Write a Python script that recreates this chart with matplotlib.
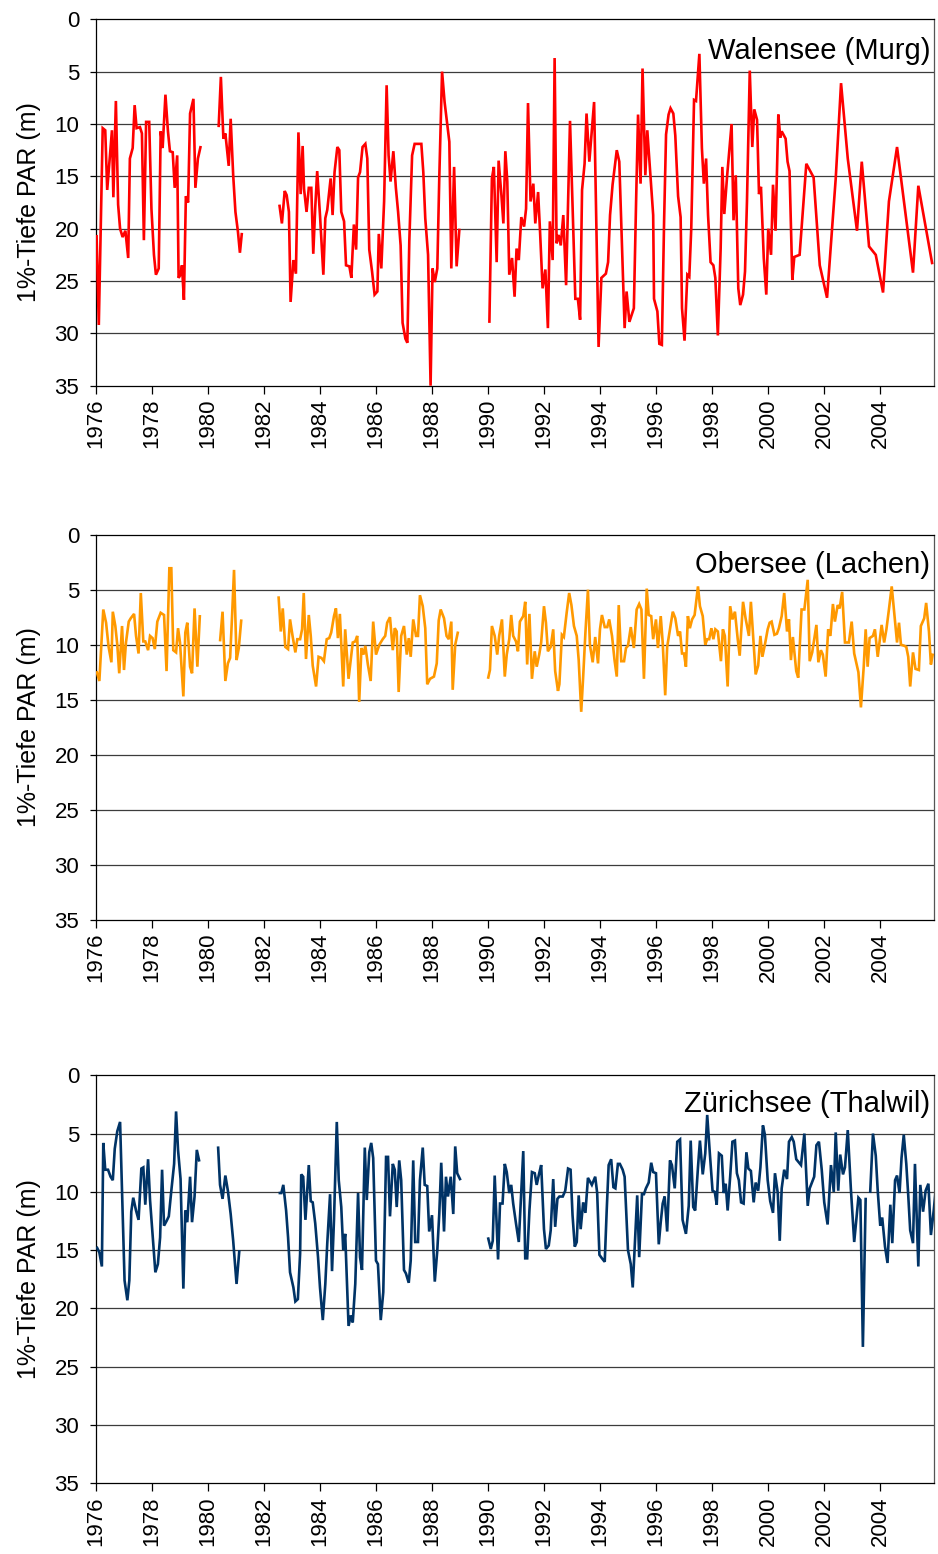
import numpy as np
import matplotlib
matplotlib.use("Agg")
import matplotlib.pyplot as plt

plt.rcParams['font.family'] = ['Liberation Sans', 'DejaVu Sans']

nan = float('nan')

# ---------------- Walensee (Murg) ----------------
walensee_year = [
    1976.02, 1976.10, 1976.24, 1976.33, 1976.40, 1976.57, 1976.62, 1976.71, 1976.79, 1976.86,
    1976.95, 1977.05, 1977.15, 1977.21, 1977.31, 1977.38, 1977.45, 1977.57, 1977.64, 1977.71,
    1977.79, 1977.90, 1977.98, 1978.07, 1978.14, 1978.24, 1978.31, 1978.38, 1978.48, 1978.57,
    1978.64, 1978.74, 1978.81, 1978.90, 1978.95, 1979.02, 1979.07, 1979.14, 1979.21, 1979.29,
    1979.36, 1979.48, 1979.55, 1979.64, 1979.74, 1980.00,
    1980.38, 1980.46, 1980.55, 1980.62, 1980.74, 1980.81, 1980.90, 1980.98, 1981.07, 1981.14,
    1981.21, 1982.00,
    1982.55, 1982.64, 1982.74, 1982.81, 1982.89, 1982.95, 1983.05, 1983.14, 1983.23, 1983.31,
    1983.38, 1983.43, 1983.52, 1983.60, 1983.69, 1983.76, 1983.83, 1983.90, 1984.00, 1984.12,
    1984.19, 1984.26, 1984.38, 1984.45, 1984.52, 1984.62, 1984.69, 1984.76, 1984.86, 1984.93,
    1985.05, 1985.12, 1985.21, 1985.29, 1985.36, 1985.43, 1985.52, 1985.62, 1985.69, 1985.76,
    1985.86, 1985.95, 1986.05, 1986.10, 1986.19, 1986.29, 1986.38, 1986.45, 1986.52, 1986.62,
    1986.71, 1986.79, 1986.88, 1986.95, 1987.05, 1987.12, 1987.19, 1987.29, 1987.38, 1987.62,
    1987.69, 1987.76, 1987.86, 1987.95, 1988.02, 1988.10, 1988.19, 1988.26, 1988.36, 1988.45,
    1988.62, 1988.69, 1988.79, 1988.88, 1988.98, 1989.50,
    1990.05, 1990.14, 1990.21, 1990.31, 1990.38, 1990.48, 1990.55, 1990.62, 1990.69, 1990.76,
    1990.86, 1990.95, 1991.02, 1991.10, 1991.19, 1991.29, 1991.36, 1991.43, 1991.52, 1991.62,
    1991.69, 1991.79, 1991.86, 1991.95, 1992.05, 1992.14, 1992.21, 1992.31, 1992.38, 1992.45,
    1992.52, 1992.60, 1992.69, 1992.79, 1992.93, 1993.12, 1993.21, 1993.29, 1993.36, 1993.45,
    1993.52, 1993.62, 1993.79, 1993.95, 1994.05, 1994.21, 1994.29, 1994.36, 1994.45, 1994.60,
    1994.69, 1994.88, 1994.95, 1995.05, 1995.21, 1995.29, 1995.36, 1995.45, 1995.52, 1995.62,
    1995.69, 1995.81, 1995.90, 1995.93, 1996.05, 1996.12, 1996.21, 1996.29, 1996.36, 1996.45,
    1996.52, 1996.62, 1996.69, 1996.79, 1996.88, 1996.93, 1997.02, 1997.12, 1997.19, 1997.26,
    1997.36, 1997.43, 1997.55, 1997.64, 1997.71, 1997.79, 1997.86, 1997.95, 1998.05, 1998.12,
    1998.21, 1998.31, 1998.37, 1998.44, 1998.54, 1998.70, 1998.77, 1998.85, 1998.94, 1999.01,
    1999.11, 1999.18, 1999.25, 1999.35, 1999.44, 1999.51, 1999.61, 1999.68, 1999.75, 1999.85,
    1999.94, 2000.01, 2000.11, 2000.18, 2000.27, 2000.37, 2000.44, 2000.49, 2000.63, 2000.70,
    2000.77, 2000.87, 2000.94, 2001.13, 2001.37, 2001.63, 2001.85, 2002.11, 2002.42, 2002.61,
    2002.85, 2003.18, 2003.35, 2003.61, 2003.85, 2004.11, 2004.32, 2004.61, 2005.18, 2005.37,
    2005.87,
]
walensee_depth = [
    20.6, 29.2, 10.4, 10.6, 16.3, 10.6, 17.0, 7.8, 17.7, 20.0,
    20.8, 20.2, 22.8, 13.3, 12.3, 8.2, 10.4, 10.3, 10.9, 21.1,
    9.8, 9.8, 18.1, 22.5, 24.4, 23.8, 10.7, 12.3, 7.2, 10.7,
    12.6, 12.7, 16.1, 13.0, 24.7, 24.4, 23.5, 26.8, 16.9, 17.5,
    9.0, 7.6, 16.1, 13.3, 12.1, nan,
    10.3, 5.5, 11.4, 10.9, 14.0, 9.5, 14.9, 18.4, 20.3, 22.3,
    20.4, nan,
    17.7, 19.5, 16.4, 16.8, 18.4, 27.0, 23.0, 24.3, 10.8, 16.7,
    12.1, 16.2, 18.4, 16.1, 16.1, 22.4, 18.0, 14.5, 18.7, 24.4,
    19.0, 18.2, 15.2, 18.7, 14.6, 12.2, 12.5, 18.4, 19.3, 23.5,
    23.6, 24.7, 19.6, 22.0, 15.1, 14.6, 12.2, 11.9, 13.3, 22.0,
    24.1, 26.3, 26.0, 20.5, 23.8, 17.4, 6.3, 13.0, 15.5, 12.6,
    16.1, 18.4, 21.6, 29.0, 30.5, 30.9, 21.2, 13.0, 11.9, 11.9,
    14.6, 19.0, 22.5, 35.0, 23.8, 25.1, 23.8, 15.2, 5.0, 7.9,
    11.7, 23.8, 14.1, 23.6, 20.0, nan,
    29.0, 15.2, 14.1, 23.2, 13.5, 16.8, 19.5, 12.6, 15.5, 24.4,
    22.8, 26.5, 21.9, 23.0, 18.9, 19.8, 18.1, 8.0, 17.4, 15.7,
    19.5, 16.5, 20.3, 25.7, 23.9, 29.5, 19.3, 23.0, 3.7, 21.4,
    20.6, 21.6, 18.7, 25.4, 9.7, 26.7, 26.7, 28.7, 16.3, 13.8,
    9.0, 13.6, 7.9, 31.3, 24.7, 24.3, 23.2, 18.7, 15.8, 12.5,
    13.6, 29.5, 26.0, 28.9, 27.6, 17.4, 9.1, 15.7, 4.7, 14.9,
    10.6, 15.2, 18.7, 26.7, 27.9, 31.0, 31.1, 19.3, 11.0, 9.1,
    8.5, 9.0, 11.1, 16.9, 18.9, 27.6, 30.7, 24.4, 24.6, 20.0,
    7.7, 7.8, 3.3, 12.3, 15.7, 13.3, 18.7, 23.2, 23.5, 24.7,
    30.2, 21.9, 14.1, 18.6, 15.0, 10.0, 19.2, 14.9, 25.7, 27.3,
    26.3, 24.1, 17.4, 4.9, 12.2, 8.6, 9.6, 16.7, 16.0, 22.8,
    26.3, 20.0, 22.5, 15.8, 20.2, 9.1, 11.3, 10.7, 11.4, 13.6,
    14.5, 24.9, 22.7, 22.5, 13.8, 15.1, 23.5, 26.6, 15.2, 6.1,
    13.3, 20.2, 13.6, 21.7, 22.5, 26.1, 17.4, 12.2, 24.2, 15.9,
    23.4,
]

# ---------------- Obersee (Lachen) ----------------
obersee_year = [
    1976.02, 1976.12, 1976.26, 1976.36, 1976.45, 1976.55, 1976.60, 1976.69, 1976.76, 1976.83,
    1976.93, 1977.00, 1977.07, 1977.17, 1977.24, 1977.36, 1977.43, 1977.52, 1977.60, 1977.69,
    1977.76, 1977.86, 1977.93, 1978.02, 1978.10, 1978.19, 1978.31, 1978.43, 1978.52, 1978.62,
    1978.69, 1978.76, 1978.86, 1978.93, 1979.00, 1979.12, 1979.19, 1979.26, 1979.36, 1979.43,
    1979.52, 1979.62, 1979.71, 1980.00,
    1980.43, 1980.52, 1980.62, 1980.71, 1980.79, 1980.86, 1980.93, 1981.02, 1981.10, 1981.19,
    1982.00,
    1982.52, 1982.60, 1982.67, 1982.76, 1982.86, 1982.93, 1983.02, 1983.12, 1983.19, 1983.29,
    1983.36, 1983.42, 1983.50, 1983.60, 1983.67, 1983.74, 1983.86, 1983.95, 1984.05, 1984.14,
    1984.24, 1984.33, 1984.40, 1984.50, 1984.57, 1984.64, 1984.71, 1984.83, 1984.90, 1985.02,
    1985.17, 1985.26, 1985.33, 1985.40, 1985.48, 1985.55, 1985.62, 1985.71, 1985.81, 1985.90,
    1986.00, 1986.12, 1986.24, 1986.33, 1986.40, 1986.50, 1986.60, 1986.67, 1986.74, 1986.81,
    1986.90, 1987.00, 1987.10, 1987.17, 1987.24, 1987.33, 1987.43, 1987.50, 1987.57, 1987.67,
    1987.76, 1987.83, 1987.93, 1988.07, 1988.17, 1988.24, 1988.31, 1988.43, 1988.52, 1988.60,
    1988.69, 1988.74, 1988.83, 1988.93, 1989.50,
    1990.00, 1990.07, 1990.14, 1990.24, 1990.33, 1990.40, 1990.50, 1990.60, 1990.67, 1990.76,
    1990.83, 1990.90, 1991.00, 1991.07, 1991.14, 1991.26, 1991.33, 1991.40, 1991.48, 1991.57,
    1991.67, 1991.74, 1991.83, 1991.90, 1992.00, 1992.07, 1992.14, 1992.24, 1992.33, 1992.40,
    1992.50, 1992.55, 1992.64, 1992.71, 1992.81, 1992.90, 1992.98, 1993.07, 1993.17, 1993.24,
    1993.33, 1993.40, 1993.48, 1993.57, 1993.64, 1993.74, 1993.83, 1993.93, 1994.00, 1994.07,
    1994.17, 1994.26, 1994.33, 1994.43, 1994.52, 1994.60, 1994.67, 1994.76, 1994.86, 1994.93,
    1995.00, 1995.10, 1995.21, 1995.31, 1995.40, 1995.48, 1995.57, 1995.67, 1995.74, 1995.83,
    1995.90, 1996.00, 1996.07, 1996.17, 1996.24, 1996.33, 1996.40, 1996.50, 1996.60, 1996.69,
    1996.79, 1996.86, 1996.93, 1997.00, 1997.07, 1997.14, 1997.21, 1997.29, 1997.38, 1997.43,
    1997.50, 1997.57, 1997.67, 1997.76, 1997.83, 1997.90, 1997.98, 1998.05, 1998.12, 1998.21,
    1998.32, 1998.39, 1998.46, 1998.56, 1998.65, 1998.73, 1998.82, 1998.92, 1998.99, 1999.11,
    1999.20, 1999.32, 1999.39, 1999.49, 1999.56, 1999.65, 1999.73, 1999.80, 1999.89, 1999.99,
    2000.06, 2000.13, 2000.23, 2000.32, 2000.39, 2000.49, 2000.58, 2000.68, 2000.75, 2000.82,
    2000.89, 2001.01, 2001.08, 2001.20, 2001.30, 2001.42, 2001.49, 2001.58, 2001.73, 2001.80,
    2001.89, 2001.96, 2002.06, 2002.15, 2002.23, 2002.32, 2002.39, 2002.49, 2002.56, 2002.65,
    2002.75, 2002.89, 2002.99, 2003.08, 2003.23, 2003.32, 2003.42, 2003.49, 2003.56, 2003.63,
    2003.75, 2003.82, 2003.92, 2004.06, 2004.15, 2004.23, 2004.32, 2004.42, 2004.51, 2004.61,
    2004.68, 2004.75, 2004.87, 2004.94, 2005.01, 2005.08, 2005.18, 2005.27, 2005.39, 2005.46,
    2005.58, 2005.65, 2005.75, 2005.82, 2005.89,
]
obersee_depth = [
    12.4, 13.3, 6.8, 8.0, 10.2, 11.6, 7.0, 8.3, 10.0, 12.6,
    8.3, 12.3, 9.8, 7.9, 7.6, 7.2, 9.2, 10.8, 5.3, 9.7,
    9.7, 10.5, 9.2, 9.4, 10.4, 7.9, 7.1, 7.3, 12.4, 3.05,
    3.05, 10.5, 10.7, 8.5, 9.8, 14.7, 8.9, 8.0, 12.0, 12.6,
    6.7, 12.0, 7.3, nan,
    9.7, 7.0, 13.3, 11.7, 11.2, 7.4, 3.2, 11.4, 10.3, 7.7,
    nan,
    5.6, 8.8, 6.7, 10.2, 10.4, 7.7, 9.2, 10.7, 9.5, 9.5,
    8.6, 5.3, 11.3, 7.3, 9.2, 11.9, 13.8, 11.1, 11.2, 11.5,
    9.5, 9.4, 8.9, 7.4, 6.7, 9.4, 7.2, 13.8, 8.6, 13.1,
    9.8, 9.7, 9.2, 15.2, 10.3, 10.9, 10.1, 11.8, 13.3, 7.9,
    10.9, 10.0, 9.5, 9.2, 8.0, 7.5, 10.5, 8.5, 8.8, 14.3,
    9.2, 8.3, 10.9, 9.4, 11.1, 7.7, 9.2, 9.2, 5.5, 6.5,
    8.5, 13.6, 13.1, 12.9, 11.7, 7.8, 6.8, 7.6, 9.2, 9.5,
    7.9, 14.1, 10.0, 8.8, nan,
    13.1, 12.3, 8.3, 9.2, 10.9, 9.2, 7.7, 12.9, 10.9, 9.5,
    7.3, 9.2, 9.7, 10.6, 7.9, 7.4, 6.1, 11.8, 7.2, 13.1,
    10.6, 12.0, 10.9, 9.8, 6.5, 8.0, 10.6, 10.2, 8.6, 12.4,
    14.2, 13.6, 9.1, 9.3, 7.1, 5.3, 6.4, 8.3, 9.2, 11.4,
    16.1, 12.9, 8.9, 5.0, 10.0, 11.6, 9.3, 11.7, 8.6, 7.3,
    8.4, 8.4, 7.7, 9.2, 11.4, 12.9, 6.4, 11.5, 11.5, 10.3,
    10.1, 8.4, 10.3, 6.8, 6.3, 6.8, 13.1, 4.9, 7.3, 7.4,
    9.5, 7.7, 10.3, 7.4, 9.8, 14.6, 10.2, 8.6, 7.0, 7.6,
    9.2, 8.8, 10.8, 10.8, 12.0, 7.4, 8.5, 7.7, 7.3, 6.2,
    4.7, 6.5, 7.4, 10.0, 9.5, 9.5, 8.5, 9.5, 8.6, 8.8,
    11.5, 8.6, 9.2, 13.8, 6.5, 7.7, 7.0, 9.5, 11.0, 6.1,
    7.6, 9.2, 6.1, 10.0, 12.7, 11.9, 9.2, 11.1, 10.0, 8.6,
    8.0, 7.9, 9.1, 9.0, 8.5, 7.4, 5.3, 8.8, 7.7, 11.4,
    9.3, 12.4, 13.0, 6.8, 6.8, 4.1, 11.5, 10.7, 8.2, 11.6,
    10.5, 10.9, 12.9, 8.6, 9.2, 6.3, 7.9, 6.4, 6.7, 5.2,
    9.8, 9.8, 7.9, 10.8, 12.5, 15.7, 12.0, 8.6, 12.0, 9.4,
    9.2, 8.6, 11.1, 8.2, 9.8, 8.6, 6.8, 4.7, 7.1, 9.8,
    8.0, 10.0, 10.1, 10.2, 11.1, 13.8, 10.7, 12.2, 12.3, 8.3,
    7.6, 6.2, 8.8, 11.8, 10.8,
]

# ---------------- Zürichsee (Thalwil) ----------------
zuerichsee_year = [
    1976.02, 1976.12, 1976.21, 1976.26, 1976.33, 1976.43, 1976.52, 1976.60, 1976.67, 1976.76,
    1976.86, 1976.93, 1977.02, 1977.12, 1977.19, 1977.26, 1977.33, 1977.43, 1977.52, 1977.62,
    1977.69, 1977.76, 1977.86, 1977.93, 1978.02, 1978.12, 1978.21, 1978.29, 1978.36, 1978.43,
    1978.52, 1978.60, 1978.69, 1978.79, 1978.86, 1978.93, 1979.02, 1979.12, 1979.19, 1979.26,
    1979.36, 1979.43, 1979.52, 1979.60, 1979.69, 1980.00,
    1980.36, 1980.43, 1980.52, 1980.62, 1980.71, 1980.81, 1980.90, 1981.02, 1981.12, 1982.00,
    1982.52, 1982.62, 1982.69, 1982.79, 1982.86, 1982.93, 1983.05, 1983.12, 1983.21, 1983.29,
    1983.33, 1983.40, 1983.48, 1983.60, 1983.67, 1983.74, 1983.83, 1983.93, 1984.00, 1984.10,
    1984.19, 1984.26, 1984.36, 1984.43, 1984.50, 1984.60, 1984.67, 1984.76, 1984.83, 1984.90,
    1985.02, 1985.10, 1985.17, 1985.26, 1985.36, 1985.43, 1985.50, 1985.60, 1985.67, 1985.76,
    1985.83, 1985.90, 1986.00, 1986.07, 1986.17, 1986.26, 1986.36, 1986.43, 1986.50, 1986.60,
    1986.67, 1986.74, 1986.83, 1986.90, 1987.00, 1987.07, 1987.17, 1987.24, 1987.33, 1987.40,
    1987.50, 1987.57, 1987.67, 1987.74, 1987.83, 1987.90, 1988.00, 1988.10, 1988.19, 1988.26,
    1988.33, 1988.43, 1988.50, 1988.57, 1988.67, 1988.76, 1988.83, 1988.90, 1989.02, 1989.50,
    1990.00, 1990.10, 1990.17, 1990.24, 1990.36, 1990.43, 1990.52, 1990.60, 1990.67, 1990.76,
    1990.83, 1990.90, 1991.00, 1991.10, 1991.26, 1991.33, 1991.40, 1991.48, 1991.57, 1991.67,
    1991.74, 1991.83, 1991.90, 1992.00, 1992.07, 1992.17, 1992.24, 1992.33, 1992.40, 1992.48,
    1992.55, 1992.67, 1992.76, 1992.86, 1992.95, 1993.02, 1993.10, 1993.17, 1993.24, 1993.31,
    1993.40, 1993.48, 1993.57, 1993.64, 1993.71, 1993.83, 1993.90, 1993.98, 1994.07, 1994.17,
    1994.24, 1994.31, 1994.40, 1994.48, 1994.55, 1994.64, 1994.71, 1994.81, 1994.88, 1995.00,
    1995.10, 1995.17, 1995.26, 1995.33, 1995.40, 1995.50, 1995.57, 1995.64, 1995.74, 1995.83,
    1995.90, 1996.00, 1996.10, 1996.17, 1996.24, 1996.31, 1996.40, 1996.50, 1996.57, 1996.67,
    1996.76, 1996.86, 1996.95, 1997.07, 1997.17, 1997.24, 1997.33, 1997.40, 1997.50, 1997.57,
    1997.67, 1997.76, 1997.83, 1997.93, 1998.02, 1998.10, 1998.17, 1998.25, 1998.35, 1998.42,
    1998.49, 1998.56, 1998.65, 1998.73, 1998.82, 1998.89, 1998.96, 1999.04, 1999.13, 1999.23,
    1999.30, 1999.39, 1999.49, 1999.56, 1999.65, 1999.73, 1999.82, 1999.89, 1999.99, 2000.08,
    2000.18, 2000.25, 2000.35, 2000.42, 2000.49, 2000.58, 2000.68, 2000.75, 2000.85, 2000.92,
    2001.01, 2001.08, 2001.18, 2001.30, 2001.42, 2001.49, 2001.65, 2001.73, 2001.82, 2001.92,
    2002.01, 2002.13, 2002.25, 2002.35, 2002.42, 2002.51, 2002.58, 2002.68, 2002.75, 2002.85,
    2002.96, 2003.08, 2003.23, 2003.30, 2003.39, 2003.49, 2003.57,
    2003.65, 2003.75, 2003.85, 2003.92, 2004.01, 2004.08, 2004.18, 2004.27, 2004.37, 2004.44,
    2004.54, 2004.61, 2004.70, 2004.77, 2004.85, 2004.94, 2005.01, 2005.08, 2005.18, 2005.25,
    2005.37, 2005.44, 2005.54, 2005.63, 2005.73, 2005.82, 2005.92, 2005.98,
]
zuerichsee_depth = [
    14.7, 15.2, 16.4, 5.8, 8.1, 8.1, 8.7, 9.0, 6.3, 4.8,
    4.0, 9.9, 17.6, 19.3, 17.6, 11.7, 10.5, 11.6, 12.4, 8.0,
    7.9, 11.1, 7.2, 10.7, 13.6, 16.9, 16.2, 13.9, 8.1, 12.9,
    12.5, 12.1, 9.9, 7.6, 3.1, 6.4, 8.9, 18.3, 11.6, 12.6,
    8.7, 12.6, 10.4, 6.4, 7.4, nan,
    6.1, 9.4, 10.6, 8.6, 9.9, 11.9, 14.2, 17.9, 15.0, nan,
    10.1, 10.1, 9.4, 11.6, 13.9, 16.9, 18.2, 19.4, 19.2, 15.3,
    8.5, 8.7, 12.4, 7.7, 10.8, 10.9, 12.7, 15.6, 18.2, 21.0,
    17.9, 14.4, 10.2, 16.8, 12.4, 4.0, 9.0, 11.3, 15.0, 13.6,
    21.5, 20.6, 21.2, 17.9, 10.1, 15.6, 16.7, 6.2, 10.7, 6.6,
    5.8, 7.1, 15.9, 16.2, 21.0, 18.6, 7.0, 7.0, 12.1, 7.6,
    8.1, 11.3, 7.3, 9.0, 16.7, 17.0, 17.8, 15.9, 7.3, 14.3,
    14.3, 9.0, 6.2, 9.4, 9.5, 13.4, 12.0, 17.7, 15.0, 11.9,
    7.5, 13.4, 8.7, 10.4, 8.7, 11.9, 6.1, 8.4, 9.0, nan,
    13.9, 14.9, 14.2, 8.6, 15.8, 11.0, 11.0, 7.6, 8.3, 10.1,
    9.4, 11.0, 12.7, 14.3, 6.5, 15.7, 15.7, 11.6, 8.3, 8.4,
    9.4, 8.4, 7.7, 13.2, 14.9, 14.6, 13.3, 8.9, 13.0, 10.6,
    10.4, 10.4, 9.9, 8.0, 8.1, 12.0, 14.7, 14.3, 10.3, 13.2,
    10.9, 11.8, 8.8, 9.1, 9.4, 8.7, 10.1, 15.4, 15.7, 16.0,
    11.6, 7.7, 7.2, 9.6, 9.7, 7.6, 7.6, 8.1, 8.7, 15.0,
    16.2, 18.2, 13.7, 10.3, 15.6, 10.2, 10.2, 9.7, 9.2, 7.5,
    8.3, 8.4, 14.5, 12.6, 11.0, 10.4, 13.4, 7.3, 7.7, 9.7,
    5.7, 5.5, 12.4, 13.6, 11.2, 5.6, 11.3, 11.6, 7.9, 5.6,
    8.5, 6.7, 3.4, 6.9, 9.9, 10.0, 11.1, 6.7, 6.9, 10.1,
    9.3, 11.6, 8.7, 5.7, 5.6, 8.4, 9.0, 10.9, 11.0, 6.6,
    8.0, 8.2, 10.9, 9.2, 9.9, 7.9, 4.3, 5.1, 9.0, 10.8,
    11.8, 8.4, 10.1, 14.2, 9.7, 8.1, 8.9, 5.7, 5.3, 5.7,
    7.2, 7.4, 7.7, 5.0, 11.2, 9.7, 8.7, 6.0, 5.7, 8.1,
    10.9, 12.8, 7.7, 10.0, 4.9, 9.9, 6.8, 8.5, 7.9, 4.7,
    9.7, 14.3, 10.5, 10.7, 23.3, 10.5, nan,
    10.1, 5.0, 6.9, 9.9, 12.9, 12.2, 14.7, 16.1, 11.1, 14.4,
    9.0, 8.6, 10.1, 7.1, 5.1, 7.6, 10.3, 13.3, 14.4, 7.6,
    16.4, 9.4, 11.7, 9.9, 9.3, 13.7, 11.6, 10.1,
]

panel_titles = ["Walensee (Murg)", "Obersee (Lachen)", "Zürichsee (Thalwil)"]
line_colors = ["#FF0000", "#FF9900", "#003366"]
y_label = "1%-Tiefe PAR (m)"
x_ticks = list(range(1976, 2005, 2))
y_ticks = list(range(0, 36, 5))

W, H = 938, 1554
fig = plt.figure(figsize=(W / 100, H / 100), dpi=100)

# axes rectangles in pixels: (left, top, right, bottom)
boxes = [(96, 19.3, 934, 385.7), (96, 534.7, 934, 919.7), (96, 1075.3, 934, 1483.3)]
title_y = [0.9135, 0.9213, 0.9297]

series = [(walensee_year, walensee_depth),
          (obersee_year, obersee_depth),
          (zuerichsee_year, zuerichsee_depth)]

for i, ((l, t, r, b), (xs, ys)) in enumerate(zip(boxes, series)):
    ax = fig.add_axes([l / W, 1 - b / H, (r - l) / W, (b - t) / H])
    ax.set_xlim(1976, 2005.93)
    ax.set_ylim(35, 0)
    for yv in y_ticks[1:-1]:
        ax.axhline(yv, color="#3c3c3c", lw=0.9, zorder=1)
    ax.plot(xs, ys, color=line_colors[i], lw=1.9, zorder=3,
            solid_joinstyle="miter", solid_capstyle="butt")
    ax.set_xticks(x_ticks)
    ax.set_xticklabels([str(x) for x in x_ticks], rotation=90, fontsize=16)
    ax.set_yticks(y_ticks)
    ax.set_yticklabels([str(y) for y in y_ticks], fontsize=16)
    ax.tick_params(axis="x", direction="out", length=5.5, width=0.9, pad=4)
    ax.tick_params(axis="y", direction="out", length=4, width=0.9, pad=8)
    for s in ax.spines.values():
        s.set_color("#000000")
        s.set_linewidth(0.9)
    ax.spines["right"].set_color("#555555")
    ax.set_ylabel(y_label, fontsize=18)
    ax.yaxis.set_label_coords(-0.066, 0.5)
    ax.text(0.9955, title_y[i], panel_titles[i], transform=ax.transAxes,
            ha="right", va="center", fontsize=21, zorder=4)

fig.savefig("out.png", dpi=100)
